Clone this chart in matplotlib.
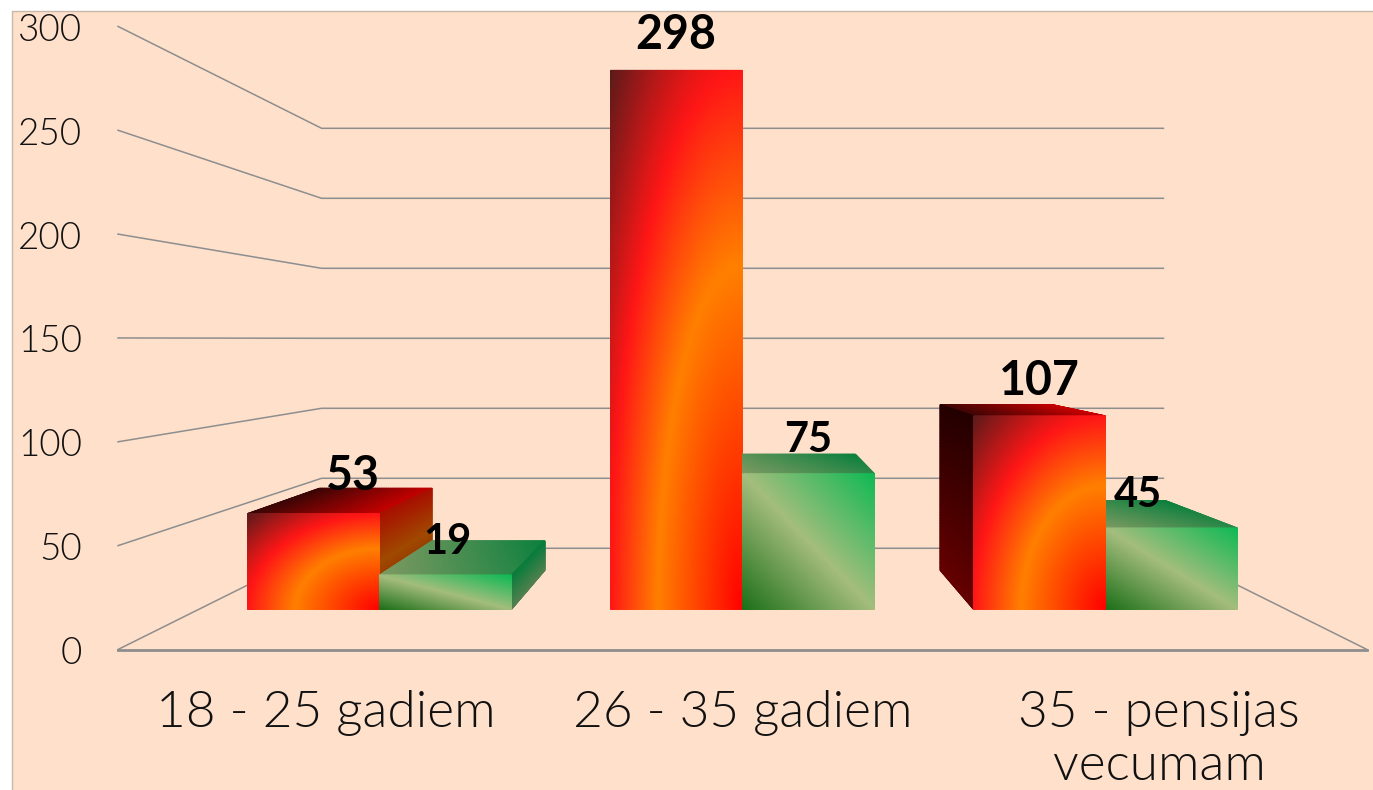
#!/usr/bin/env python3

import matplotlib
matplotlib.use('agg')

import numpy as np
import matplotlib.pyplot as plt
from matplotlib.colors import to_rgb
from matplotlib.patches import Rectangle

categories = ['18 - 25 gadiem', '26 - 35 gadiem', '35 - pensijas\nvecumam']
red_values = [53, 298, 107]
green_values = [19, 75, 45]
y_ticks = [0, 50, 100, 150, 200, 250, 300]

WIDTH, HEIGHT = 1373, 790

# perspective of the chart box, in pixels
VP_X, VP_Y = 742.5, 339.0
OUTER_FLOOR = 649.5
OUTER_UNIT = 2.077
OUTER_LEFT, OUTER_RIGHT = 118.0, 1367.0
WALL_SCALE = 0.674
FRONT_SCALE = 0.871
BAR_DEPTH = 0.855
GROUP_STEP = 363.0
BAR_WIDTH = 132.0

RED_FRONT = [(0, '#ff0000'), (0.64, '#ff8000'), (1.0, '#ff1616'), (1.414, '#5c1a1a')]
RED_TOP = [(0, '#3c0505'), (1, '#c80000')]
RED_RIGHT = [(0, '#8a2400'), (0.5, '#a04a00'), (1, '#a81000')]
RED_LEFT = [(0, '#660000'), (1, '#240000')]
GREEN_FRONT = [(0, '#1c6f18'), (0.5, '#a5bd7d'), (1, '#10b955')]
GREEN_TOP = [(0, '#7f9a62'), (1, '#0c803e')]
GREEN_SIDE = [(0, '#55804f'), (1, '#0a7c3c')]


def project(x, y, scale):
	'''Moves an outer plane point towards the vanishing point.'''
	return VP_X + (x - VP_X) * scale, VP_Y + (y - VP_Y) * scale


def value_y(value, scale=1.0):
	return project(0, OUTER_FLOOR - value * OUTER_UNIT, scale)[1]


def ramp(t, stops):
	pos = [s[0] for s in stops]
	cols = np.array([to_rgb(s[1]) for s in stops])
	return np.dstack([np.interp(t, pos, cols[:, i]) for i in range(3)])


def face(ax, bl, br, tl, tr, shade, stops, n=60):
	'''Draws a four corner face, shade(u, v) gives the position in the colour ramp.'''
	u, v = np.meshgrid(np.linspace(0, 1, n + 1), np.linspace(0, 1, n + 1))
	bl, br, tl, tr = [np.array(p) for p in (bl, br, tl, tr)]
	xs = (1-u)*(1-v)*bl[0] + u*(1-v)*br[0] + (1-u)*v*tl[0] + u*v*tr[0]
	ys = (1-u)*(1-v)*bl[1] + u*(1-v)*br[1] + (1-u)*v*tl[1] + u*v*tr[1]
	ax.pcolormesh(xs, ys, ramp(shade(u, v), stops), shading='gouraud', zorder=3)


def draw_bar(ax, left, value, is_red):
	right = left + BAR_WIDTH
	base = value_y(0, FRONT_SCALE)
	top = value_y(value, FRONT_SCALE)

	def back(x, y):
		return project(x, y, BAR_DEPTH)

	if is_red:
		front_shade, front_stops = (lambda u, v: np.hypot(1 - u, v)), RED_FRONT
		top_shade, top_stops = (lambda u, v: u), RED_TOP
		right_stops, left_stops = RED_RIGHT, RED_LEFT
	else:
		front_shade, front_stops = (lambda u, v: (u + v) / 2), GREEN_FRONT
		top_shade, top_stops = (lambda u, v: 0.7 * u + 0.3 * v), GREEN_TOP
		right_stops, left_stops = GREEN_SIDE, GREEN_SIDE

	if top > VP_Y:
		face(ax, (left, top), (right, top), back(left, top), back(right, top),
			top_shade, top_stops)
	if right < VP_X - 1:
		face(ax, (right, base), back(right, base), (right, top), back(right, top),
			lambda u, v: v, right_stops)
	if left > VP_X + 1:
		face(ax, back(left, base), (left, base), back(left, top), (left, top),
			lambda u, v: v, left_stops)
	face(ax, (left, base), (right, base), (left, top), (right, top),
		front_shade, front_stops)


def main():
	plt.rcParams['font.family'] = ['Lato', 'DejaVu Sans']

	fig = plt.figure(figsize=(WIDTH / 100, HEIGHT / 100), dpi=100, facecolor='white')
	ax = fig.add_axes([0, 0, 1, 1])
	ax.set_xlim(0, WIDTH)
	ax.set_ylim(HEIGHT, 0)
	ax.axis('off')

	ax.add_patch(Rectangle((11.5, 10.5), WIDTH, HEIGHT, facecolor='#fee0cb',
		edgecolor='#c8b8aa', linewidth=1, zorder=0))

	line_style = dict(color='#8e8e8e', linewidth=1.1, zorder=1)
	wall_left = project(OUTER_LEFT, 0, WALL_SCALE)[0]
	wall_right = project(OUTER_RIGHT, 0, WALL_SCALE)[0]

	for tick in y_ticks:
		outer = value_y(tick)
		inner = value_y(tick, WALL_SCALE)
		ax.plot([OUTER_LEFT, wall_left, wall_right], [outer, inner, inner], **line_style)
		ax.text(82, outer + 1, str(tick), ha='right', va='center_baseline',
			fontsize=26.5, fontweight=300, color='#111111', zorder=5)

	# floor
	ax.plot([wall_right, OUTER_RIGHT], [value_y(0, WALL_SCALE), OUTER_FLOOR], **line_style)
	ax.plot([OUTER_LEFT, OUTER_RIGHT], [OUTER_FLOOR, OUTER_FLOOR], color='#8e8e8e',
		linewidth=2, zorder=1)

	label_nudge_red = [39, -1, 0]
	label_lift_red = [42, 39, 39]
	label_nudge_green = [2, 0, -34]

	for i, name in enumerate(categories):
		center = VP_X + (i - 1) * GROUP_STEP
		red_left, green_left = center - BAR_WIDTH, center
		bars = [(red_left, red_values[i], True), (green_left, green_values[i], False)]
		# the bar further from the middle is behind the other one
		bars.sort(key=lambda b: -abs(b[0] + BAR_WIDTH / 2 - VP_X))
		for left, value, is_red in bars:
			draw_bar(ax, left, value, is_red)

		ax.text(red_left + BAR_WIDTH / 2 + label_nudge_red[i],
			value_y(red_values[i], FRONT_SCALE) - label_lift_red[i], str(red_values[i]),
			ha='center', va='center_baseline', fontsize=33.5, fontweight='bold',
			color='black', zorder=6)
		ax.text(green_left + BAR_WIDTH / 2 + label_nudge_green[i],
			value_y(green_values[i], FRONT_SCALE) - 37, str(green_values[i]),
			ha='center', va='center_baseline', fontsize=30, fontweight='bold',
			color='black', zorder=6)

		label_x = project(center, 0, 1 / FRONT_SCALE)[0]
		ax.text(label_x, 690, name, ha='center', va='top', fontsize=37,
			fontweight=300, color='#111111', linespacing=1.2, zorder=5)

	fig.savefig('out.png', dpi=100, facecolor='white')


if __name__ == '__main__':
	main()
